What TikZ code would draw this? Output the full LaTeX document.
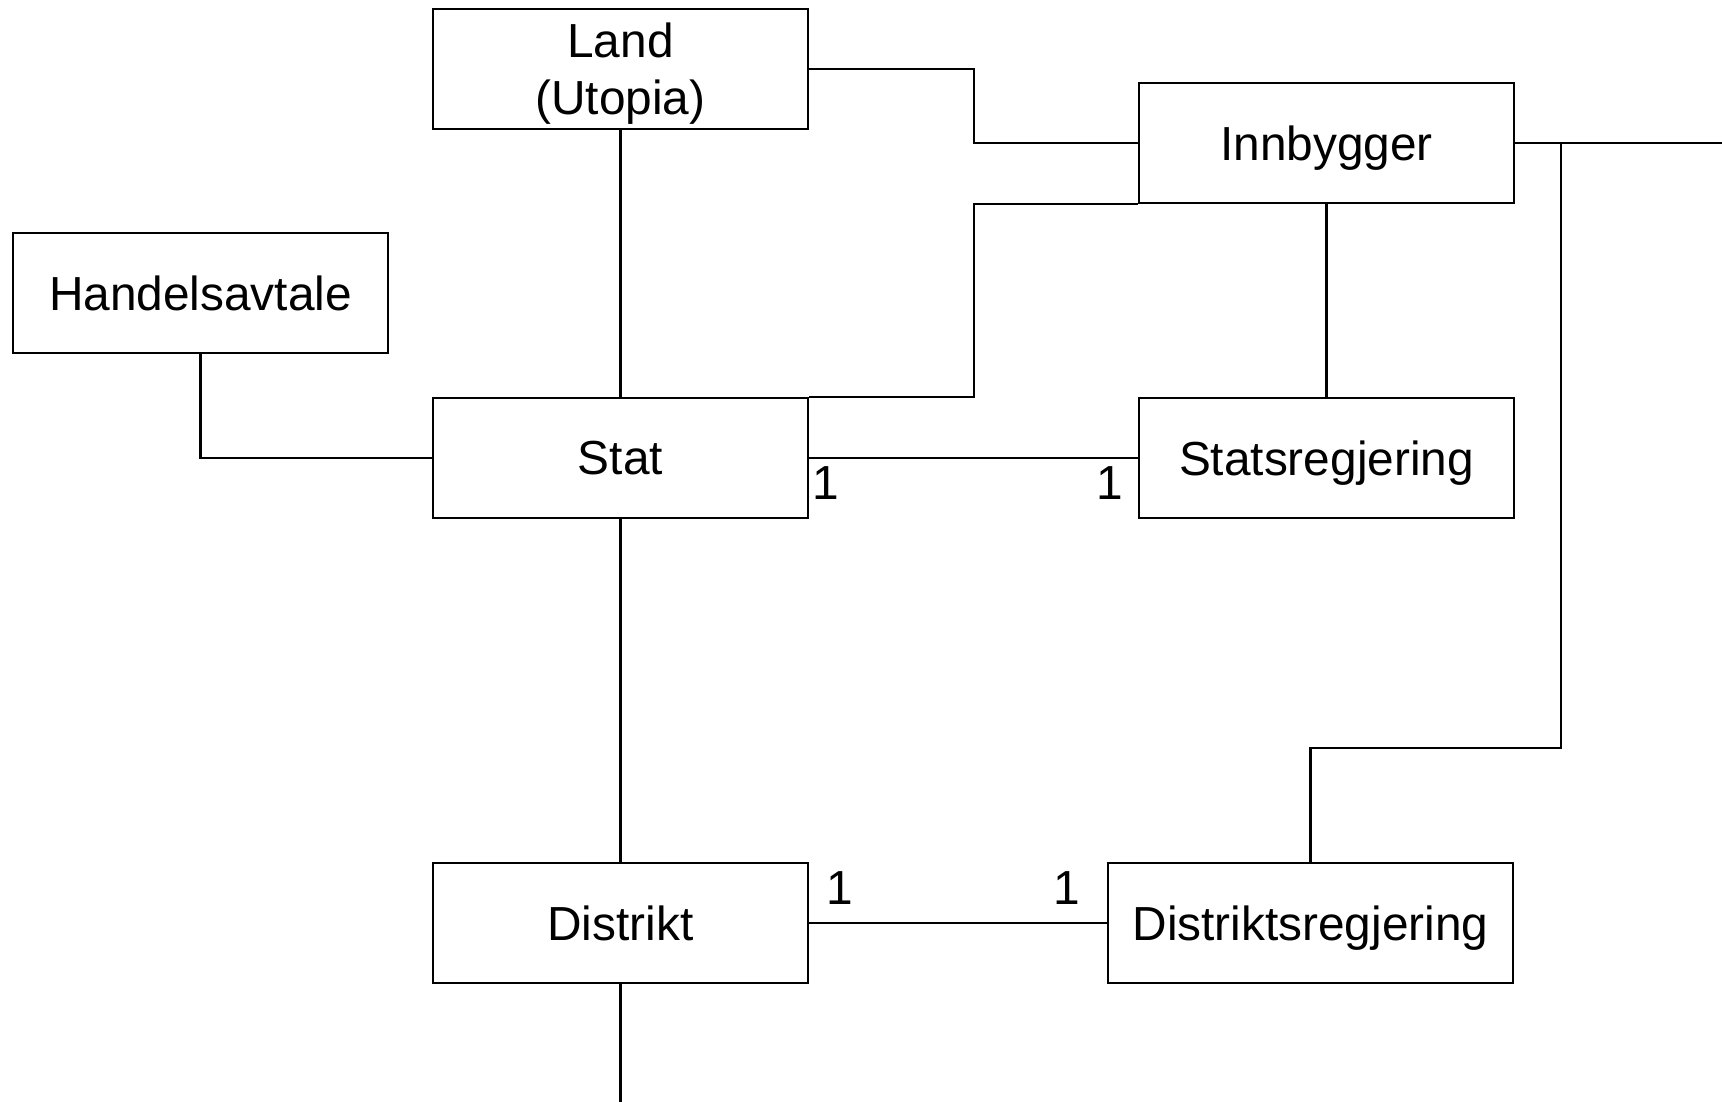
\documentclass[tikz,border=0pt]{standalone}
\usepackage{fontspec}
\setmainfont{Liberation Sans}
\usepackage{tikz}

\tikzset{
  box/.style={draw, line width=0.75pt, minimum width=3.75cm, minimum height=1.2cm,
    inner sep=0pt, text depth=0pt, font=\fontsize{13.6pt}{16.2pt}\selectfont},
  link/.style={line width=0.6pt},
  mult/.style={inner sep=0pt, font=\fontsize{13.6pt}{16.2pt}\selectfont}
}

\begin{document}
\begin{tikzpicture}
        \useasboundingbox (0, 0) rectangle (17.22, -11.02);

        \node[box, align=center] (Land) at (6.205, -0.69) {Land\\(Utopia)};
        \node[box] (Innbygger) at (13.265, -1.43) {Innbygger};
        \node[box] (Handelsavtale) at (2.005, -2.93) {Handelsavtale};

        \node[box] (Stat) at (6.205, -4.58) {Stat};
        \node[box] (Statsregjering) at (13.265, -4.58) {Statsregjering};

        \node[box] (Distrikt) at (6.205, -9.23) {Distrikt};
        \node[box, minimum width=4.05cm] (Distriktsregjering) at (13.105, -9.23) {Distriktsregjering};

        \coordinate (edgeR) at (17.22, -1.43);
        \coordinate (edgeB) at (6.205, -11.02);
        \coordinate (branch) at (15.61, -1.43);

        \draw[link] (Land.south) -- (Stat.north);
        \draw[link] (Land.east) -- ++(1.65, 0) |- (Innbygger.west);
        \draw[link] (Stat.north east) -- ++(1.65, 0) |- (Innbygger.south west);
        \draw[link] (Innbygger.south) -- (Statsregjering.north);
        \draw[link] (Innbygger.east) -- (edgeR);
        \draw[link] (branch) -- ++(0, -6.05) -| (Distriktsregjering.north);

        \draw[link] (Handelsavtale.south) |- (Stat.west);
        \draw[link] (Stat.east) -- (Statsregjering.west);
        \draw[link] (Stat.south) -- (Distrikt.north);
        \draw[link] (Distrikt.east) -- (Distriktsregjering.west);
        \draw[link] (Distrikt.south) -- (edgeB);

        \node[mult] (StatOne) at (8.26, -4.83) {1};
        \node[mult] (StatsregjeringOne) at (11.10, -4.83) {1};
        \node[mult] (DistriktOne) at (8.40, -8.88) {1};
        \node[mult] (DistriktsregjeringOne) at (10.67, -8.88) {1};
\end{tikzpicture}
\end{document}
